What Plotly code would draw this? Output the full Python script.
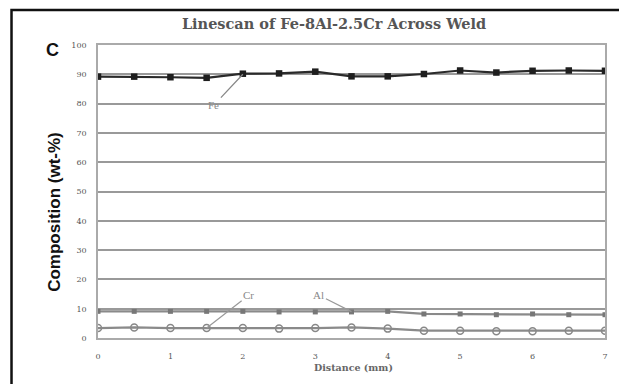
import plotly.graph_objects as go

# Linescan positions (mm) and compositions (wt-%)
distance = [0, 0.5, 1, 1.5, 2, 2.5, 3, 3.5, 4, 4.5, 5, 5.5, 6, 6.5, 7]
fe = [89.2, 89.2, 89.0, 88.8, 90.2, 90.3, 90.9, 89.3, 89.3, 90.1, 91.3, 90.6, 91.2, 91.3, 91.2]
al = [9.1, 9.1, 9.1, 9.1, 9.1, 8.9, 8.9, 8.9, 9.1, 8.2, 8.2, 7.95, 8.2, 7.95, 7.95]
cr = [3.4, 3.6, 3.4, 3.4, 3.4, 3.2, 3.4, 3.6, 3.2, 2.5, 2.5, 2.3, 2.3, 2.5, 2.5]

y_ticks = [0, 10, 20, 30, 40, 50, 60, 70, 80, 90, 100]
x_ticks = [0, 1, 2, 3, 4, 5, 6, 7]

W, H = 619, 384
L, R, T, B = 98, 11, 45, 46
pw, ph = W - L - R, H - T - B

fig = go.Figure()

fig.add_trace(go.Scatter(
    x=distance, y=al, mode="lines+markers", name="Al",
    line=dict(color="#8a8a8a", width=2.2),
    marker=dict(symbol="square", size=5, color="#777777"),
))
fig.add_trace(go.Scatter(
    x=distance, y=cr, mode="lines+markers", name="Cr",
    line=dict(color="#8a8a8a", width=2.2),
    marker=dict(symbol="circle-open", size=7, color="#888888", line=dict(width=1.5)),
))
fig.add_trace(go.Scatter(
    x=distance, y=fe, mode="lines+markers", name="Fe",
    line=dict(color="#2a2a2a", width=2.2),
    marker=dict(symbol="square", size=6.5, color="#1e1e1e"),
))

serif = "DejaVu Serif, Liberation Serif, serif"
sans = "Liberation Sans, Arial, sans-serif"

annotations = [
    # element labels with leader lines
    dict(x=2, y=90, ax=1.6, ay=79.5, axref="x", ayref="y", xref="x", yref="y",
         text="Fe", showarrow=True, arrowhead=0, arrowwidth=1.3, arrowcolor="#888888",
         font=dict(family="Liberation Serif, serif", size=11, color="#888888")),
    dict(x=1.5, y=3.4, ax=2.08, ay=14.6, axref="x", ayref="y", xref="x", yref="y",
         text="Cr", showarrow=True, arrowhead=0, arrowwidth=1.2, arrowcolor="#999999",
         font=dict(family="Liberation Serif, serif", size=11, color="#888888")),
    dict(x=3.5, y=9.0, ax=3.05, ay=14.6, axref="x", ayref="y", xref="x", yref="y",
         text="Al", showarrow=True, arrowhead=0, arrowwidth=1.2, arrowcolor="#999999",
         font=dict(family="Liberation Serif, serif", size=11, color="#888888")),
    # panel letter
    dict(x=(44 - L) / pw, y=(H - B - 38) / ph, xref="paper", yref="paper",
         text="<b>C</b>", showarrow=False, font=dict(family=sans, size=18, color="#111111")),
    # y-axis title
    dict(x=(42 - L) / pw, y=(H - B - 212) / ph, xref="paper", yref="paper",
         text="<b>Composition (wt-%)</b>", textangle=-90, showarrow=False,
         font=dict(family=sans, size=17, color="#111111")),
    # x-axis title
    dict(x=(355 - L) / pw, y=(H - B - 375) / ph, xref="paper", yref="paper",
         text="<b>Distance (mm)</b>", showarrow=False,
         font=dict(family=serif, size=9.5, color="#666666")),
]

shapes = [
    # outer panel frame
    dict(type="rect", xref="paper", yref="paper",
         x0=(11 - L) / pw, x1=(640 - L) / pw,
         y0=(H - B - 400) / ph, y1=(H - B - 10) / ph,
         line=dict(color="#111111", width=2.5), fillcolor="rgba(0,0,0,0)", layer="above"),
]

fig.update_layout(
    width=W, height=H,
    margin=dict(l=L, r=R, t=T, b=B),
    paper_bgcolor="white", plot_bgcolor="white",
    showlegend=False,
    title=dict(text="<b>Linescan of Fe-8Al-2.5Cr Across Weld</b>",
               x=334 / W, xanchor="center", y=1 - 24 / H, yanchor="middle",
               font=dict(family=serif, size=14.5, color="#555555")),
    xaxis=dict(range=[0, 7], tickvals=x_ticks, showgrid=False, zeroline=False,
               showline=True, linecolor="#aaaaaa", linewidth=1.5, mirror=True,
               ticks="", ticklabelstandoff=10,
               tickfont=dict(family=serif, size=8, color="#555555")),
    yaxis=dict(range=[0, 100], tickvals=y_ticks, showgrid=True, gridcolor="#999999",
               gridwidth=2.2, zeroline=False,
               showline=True, linecolor="#aaaaaa", linewidth=1.5, mirror=True,
               ticks="", ticklabelstandoff=8,
               tickfont=dict(family=serif, size=8, color="#555555")),
    annotations=annotations,
    shapes=shapes,
)

fig.write_html("out.html")
